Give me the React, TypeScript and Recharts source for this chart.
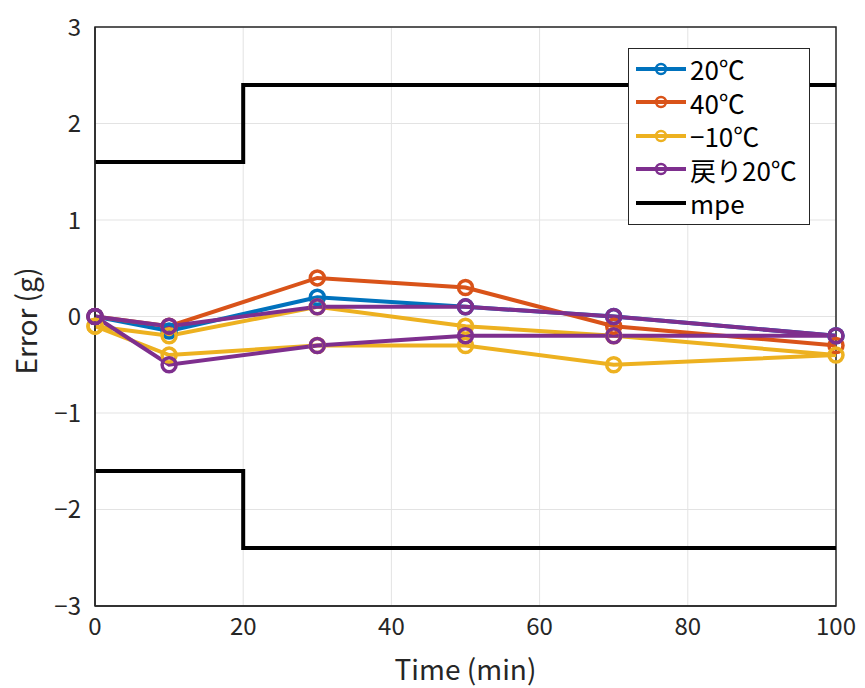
import {
  CartesianGrid,
  Line,
  LineChart,
  ReferenceArea,
  XAxis,
  YAxis,
} from "recharts";

// measurement times: one-way runs and out-and-back runs
const timeOut = [0, 10, 30, 50, 70, 100];
const timeLoop = [0, 10, 30, 50, 70, 100, 70, 50, 30, 10, 0];

const err20 = [0, -0.15, 0.2, 0.1, 0, -0.2];
const err40 = [0, -0.1, 0.4, 0.3, -0.1, -0.3];
const errMinus10 = [-0.1, -0.2, 0.1, -0.1, -0.2, -0.4, -0.5, -0.3, -0.3, -0.4, -0.1];
const errBack20 = [0, -0.1, 0.1, 0.1, 0, -0.2, -0.2, -0.2, -0.3, -0.5, 0];

// maximum permissible error
const mpeTime = [0, 20, 20, 100];
const mpeUpper = [1.6, 1.6, 2.4, 2.4];
const mpeLower = [-1.6, -1.6, -2.4, -2.4];

const xTicks = [0, 20, 40, 60, 80, 100];
const yTicks = [-3, -2, -1, 0, 1, 2, 3];

const legendLabels = ["20℃", "40℃", "−10℃", "戻り20℃", "mpe"];
const colors = ["#0072BD", "#D95319", "#EDB120", "#7E2F8E", "#000000"];

const FONT = '"Noto Sans CJK JP", "Noto Sans", sans-serif';
const AXIS = "#262626";

const toPts = (ts: number[], es: number[]) => ts.map((t, i) => ({ t, e: es[i] }));

const series = [
  { name: legendLabels[0], data: toPts(timeOut, err20), color: colors[0] },
  { name: legendLabels[1], data: toPts(timeOut, err40), color: colors[1] },
  { name: legendLabels[2], data: toPts(timeLoop, errMinus10), color: colors[2] },
  { name: legendLabels[3], data: toPts(timeLoop, errBack20), color: colors[3] },
];

const fmt = (v: number) => String(v).replace("-", "−");

function LegendBox() {
  return (
    <div
      style={{
        position: "absolute",
        left: 628,
        top: 48,
        width: 182,
        boxSizing: "border-box",
        border: "1px solid #262626",
        background: "#fff",
        padding: "3px 0 4px 6px",
        fontFamily: FONT,
        fontSize: 26,
        color: "#000",
        lineHeight: "33.5px",
        whiteSpace: "nowrap",
      }}
    >
      {legendLabels.map((label, i) => (
        <div key={label} style={{ display: "flex", alignItems: "center" }}>
          <svg width={52} height={20} style={{ marginRight: 3, flexShrink: 0 }}>
            <line x1={1} y1={10} x2={51} y2={10} stroke={colors[i]} strokeWidth={4} />
            {i < 4 && <circle cx={26} cy={10} r={5} fill="#fff" fillOpacity={0} stroke={colors[i]} strokeWidth={2.5} />}
          </svg>
          <span>{label}</span>
        </div>
      ))}
    </div>
  );
}

export default function App() {
  return (
    <div style={{ position: "absolute", left: 0, top: 0, width: 865, height: 688, background: "#fff" }}>
      <LineChart width={865} height={688} margin={{ top: 27, right: 29, bottom: 40, left: 35 }}>
        <CartesianGrid stroke="#e3e3e3" strokeWidth={1} />
        <XAxis
          dataKey="t"
          type="number"
          domain={[0, 100]}
          ticks={xTicks}
          tickFormatter={fmt}
          tickLine={false}
          axisLine={{ stroke: AXIS, strokeWidth: 1.5 }}
          tick={{ fill: AXIS, fontSize: 24, fontFamily: FONT }}
          tickMargin={6}
          height={42}
          allowDuplicatedCategory={false}
          label={{ value: "Time (min)", position: "insideBottom", offset: -32, fill: AXIS, fontSize: 28, fontFamily: FONT }}
        />
        <YAxis
          dataKey="e"
          type="number"
          domain={[-3, 3]}
          ticks={yTicks}
          tickFormatter={fmt}
          tickLine={false}
          axisLine={{ stroke: AXIS, strokeWidth: 1.5 }}
          tick={{ fill: AXIS, fontSize: 24, fontFamily: FONT }}
          tickMargin={8}
          width={60}
          label={{ value: "Error (g)", angle: -90, position: "insideLeft", offset: -8, dy: 58, fill: AXIS, fontSize: 28, fontFamily: FONT }}
        />
        <ReferenceArea x1={0} x2={100} y1={-3} y2={3} fill="none" stroke={AXIS} strokeWidth={1.5} ifOverflow="visible" />
        {series.map((s) => (
          <Line
            key={s.name}
            data={s.data}
            dataKey="e"
            name={s.name}
            type="linear"
            stroke={s.color}
            strokeWidth={4}
            dot={{ r: 7, fill: "none", stroke: s.color, strokeWidth: 3.5 }}
            activeDot={false}
            isAnimationActive={false}
          />
        ))}
        <Line data={toPts(mpeTime, mpeUpper)} dataKey="e" name="mpe" type="linear" stroke="#000" strokeWidth={4} dot={false} activeDot={false} isAnimationActive={false} />
        <Line data={toPts(mpeTime, mpeLower)} dataKey="e" name="mpe-lower" type="linear" stroke="#000" strokeWidth={4} dot={false} activeDot={false} isAnimationActive={false} />
      </LineChart>
      <LegendBox />
    </div>
  );
}
